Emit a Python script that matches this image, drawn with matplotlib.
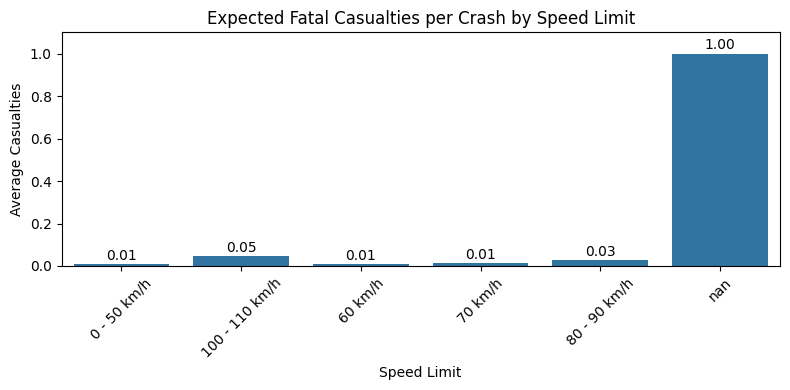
import matplotlib
matplotlib.use("Agg")
import matplotlib.pyplot as plt

speed_limits = ["0 - 50 km/h", "100 - 110 km/h", "60 km/h", "70 km/h", "80 - 90 km/h", "nan"]
avg_casualties = [0.009, 0.047, 0.009, 0.013, 0.028, 1.0]

fig, ax = plt.subplots(figsize=(7.9, 3.9), dpi=100)
x = range(len(speed_limits))
bars = ax.bar(x, avg_casualties, width=0.8, color="#3274a1")
ax.bar_label(bars, fmt="%.2f", padding=1, fontsize=10)
ax.set_xticks(list(x))
ax.set_xticklabels(speed_limits, rotation=45)
ax.set_xlim(-0.5, len(speed_limits) - 0.5)
ax.set_ylim(0, 1.1)
ax.set_title("Expected Fatal Casualties per Crash by Speed Limit")
ax.set_xlabel("Speed Limit")
ax.set_ylabel("Average Casualties")
fig.subplots_adjust(left=0.078, right=0.987, top=0.917, bottom=0.318)
fig.savefig("out.png")
